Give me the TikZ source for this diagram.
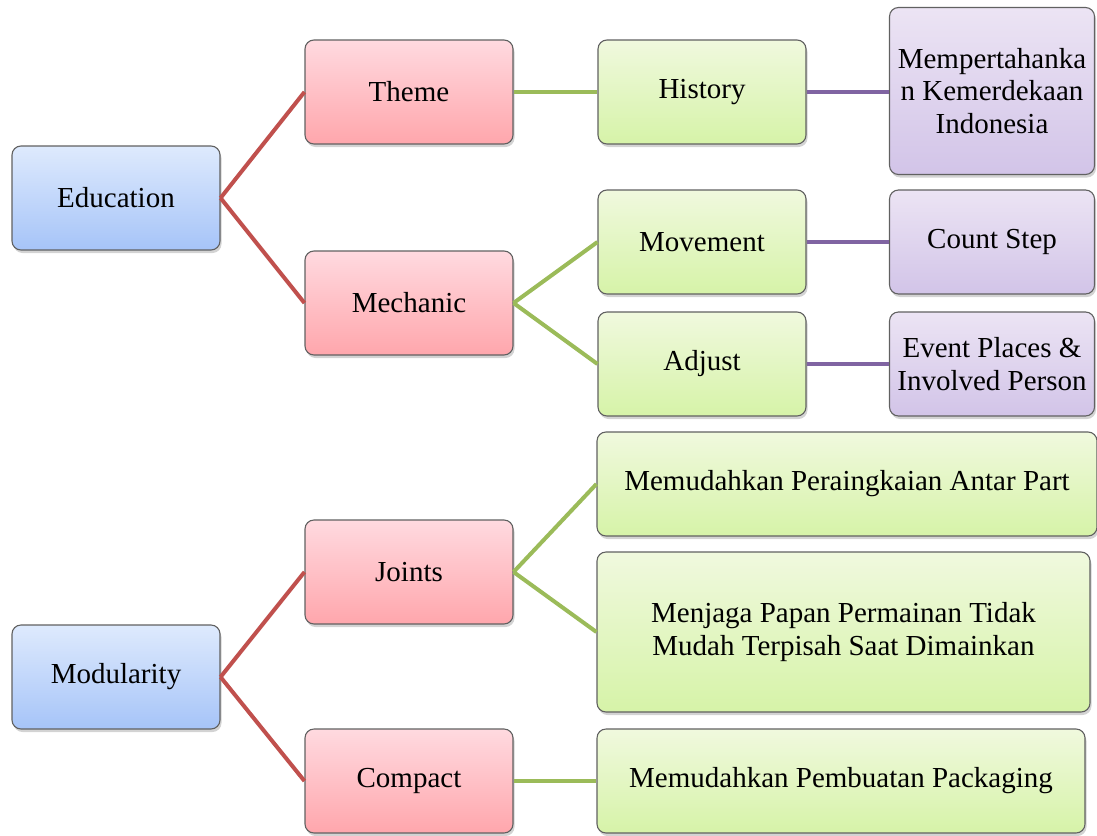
\documentclass[tikz,border=0pt]{standalone}
\usepackage{fontspec}
\setmainfont{Liberation Serif}
\usetikzlibrary{shadows}
\definecolor{blueT}{RGB}{222,234,253}
\definecolor{blueB}{RGB}{166,196,248}
\definecolor{pinkT}{RGB}{255,218,224}
\definecolor{pinkB}{RGB}{255,166,172}
\definecolor{greenT}{RGB}{240,249,222}
\definecolor{greenB}{RGB}{214,243,168}
\definecolor{purpT}{RGB}{236,228,244}
\definecolor{purpB}{RGB}{210,196,232}
\definecolor{redL}{RGB}{192,80,77}
\definecolor{greenL}{RGB}{155,187,89}
\definecolor{purpL}{RGB}{128,100,162}
\begin{document}
\begin{tikzpicture}[x=1pt,y=-1pt,
  box/.style={draw=black!62, line width=1.1pt, rounded corners=9pt, align=center,
    font=\fontsize{29}{32.5}\selectfont, inner sep=0pt,
    drop shadow={opacity=0.35, shadow xshift=1.5pt, shadow yshift=-3pt}},
  bluebox/.style={box, top color=blueT, bottom color=blueB},
  pinkbox/.style={box, top color=pinkT, bottom color=pinkB},
  greenbox/.style={box, top color=greenT, bottom color=greenB},
  purpbox/.style={box, top color=purpT, bottom color=purpB},
  sz/.style 2 args={minimum width=#1, minimum height=#2},
  redline/.style={draw=redL, line width=4pt},
  greenline/.style={draw=greenL, line width=4pt},
  purpline/.style={draw=purpL, line width=4pt}]
\useasboundingbox (0,0) rectangle (1097,835);

\node[bluebox, sz={208pt}{104pt}] (edu) at (116,198) {Education};
\node[pinkbox, sz={208pt}{104pt}] (theme) at (409,92) {Theme};
\node[pinkbox, sz={208pt}{104pt}] (mech) at (409,303) {Mechanic};
\node[greenbox, sz={208pt}{104pt}] (hist) at (702,92) {History};
\node[purpbox, sz={205pt}{167pt}] (mem) at (992,91) {Mempertahanka\\n Kemerdekaan\\Indonesia};
\node[greenbox, sz={208pt}{104pt}] (move) at (702,242) {Movement};
\node[purpbox, sz={205pt}{104pt}] (count) at (992,242) {Count Step};
\node[greenbox, sz={208pt}{104pt}] (adj) at (702,364) {Adjust};
\node[purpbox, sz={205pt}{104pt}] (event) at (992,364) {Event Places \&\\Involved Person};

\node[bluebox, sz={208pt}{104pt}] (mod) at (116,677) {Modularity};
\node[pinkbox, sz={208pt}{104pt}] (joint) at (409,572) {Joints};
\node[pinkbox, sz={208pt}{104pt}] (comp) at (409,781) {Compact};
\node[greenbox, sz={500pt}{104pt}] (peraing) at (847,484) {Memudahkan Peraingkaian Antar Part};
\node[greenbox, sz={493pt}{160pt}] (menjaga) at (843.5,632) {Menjaga Papan Permainan Tidak\\Mudah Terpisah Saat Dimainkan};
\node[greenbox, sz={488pt}{104pt}] (pack) at (841,781) {Memudahkan Pembuatan Packaging};

\draw[redline] (edu.east) -- (theme.west);
\draw[redline] (edu.east) -- (mech.west);
\draw[greenline] (theme.east) -- (hist.west);
\draw[purpline] (hist.east) -- (mem.west |- hist.east);
\draw[greenline] (mech.east) -- (move.west);
\draw[greenline] (mech.east) -- (adj.west);
\draw[purpline] (move.east) -- (count.west);
\draw[purpline] (adj.east) -- (event.west);

\draw[redline] (mod.east) -- (joint.west);
\draw[redline] (mod.east) -- (comp.west);
\draw[greenline] (joint.east) -- (peraing.west);
\draw[greenline] (joint.east) -- (menjaga.west);
\draw[greenline] (comp.east) -- (pack.west);
\end{tikzpicture}
\end{document}
